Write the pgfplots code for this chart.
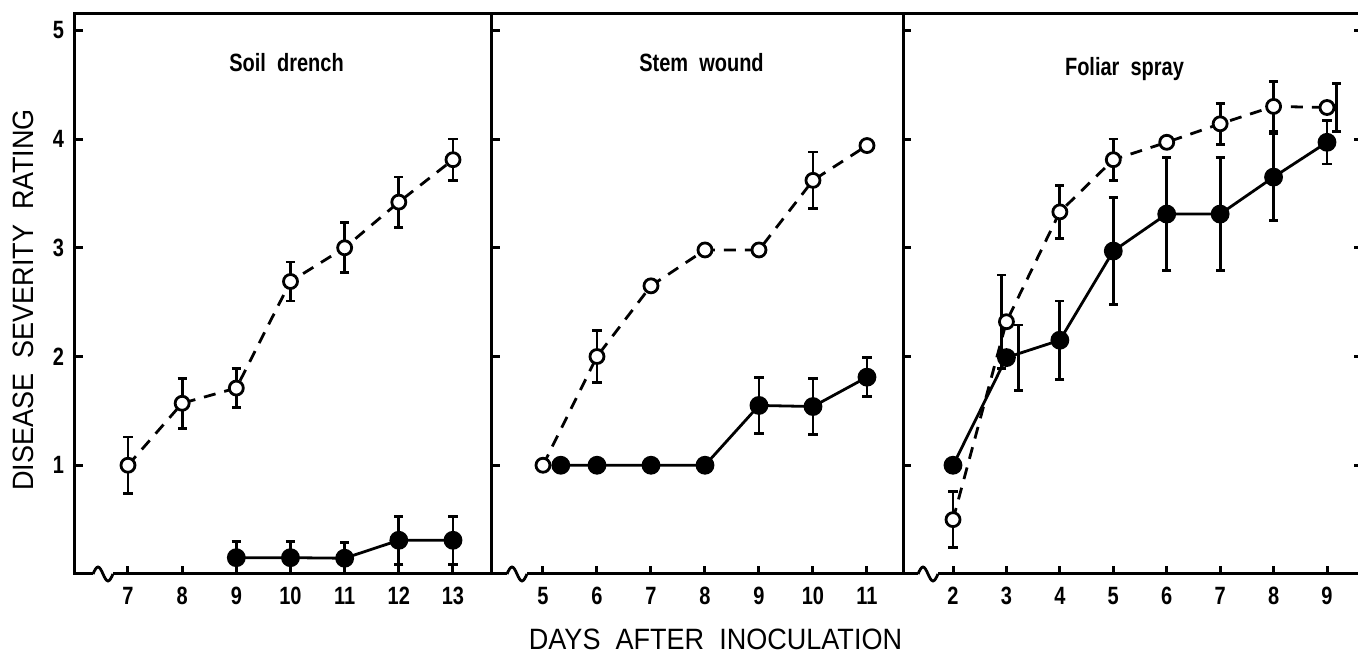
\documentclass[border=0pt]{standalone}
\usepackage{fontspec}
\setmainfont{Liberation Sans}[FakeStretch=0.92]
\newfontfamily\tickfont{Liberation Sans}[FakeStretch=0.8]
\usepackage{pgfplots}
\pgfplotsset{compat=1.18}

\pgfplotsset{
  panel/.style={
    scale only axis, height=280pt,
    ymin=0, ymax=5.15, ytick={1,2,3,4,5},
    tick align=inside, major tick length=4pt,
    xtick pos=left,
    axis line style={line width=1.5pt},
    every tick/.style={black, line width=1.5pt},
    tick label style={font=\tickfont\bfseries\fontsize{12.5}{14}\selectfont},
    /pgf/number format/assume math mode=true,
    xticklabel style={yshift=-3pt},
    yticklabel style={xshift=-2pt},
    clip=false,
  },
  errs/.style={error bars/.cd, y dir=both, y explicit,
    error bar style={draw=black, solid, line width=1.4pt},
    error mark options={draw=black, solid, rotate=90, line width=1.4pt, mark size=2.3pt}},
  open/.style={black, line width=1.4pt, dash pattern=on 6pt off 4.5pt,
    mark=*, mark size=3.5pt, mark options={solid, fill=white}, errs},
  filled/.style={black, solid, line width=1.4pt,
    mark=*, mark size=4pt, mark options={fill=black}, errs},
  baronly/.style={draw=none, mark=none, errs},
}

\begin{document}
\begin{tikzpicture}
% Soil drench
\begin{axis}[panel, name=p1, width=208.5pt,
  xmin=6.022, xmax=13.72, xtick={7,...,13}, ytick pos=left]
\addplot[filled] coordinates {
  (9,0.15) +- (0,0.15) (10,0.15) +- (0,0.15) (11,0.145) +- (0,0.145)
  (12,0.31) +- (0,0.22) (13,0.31) +- (0,0.22)};
\addplot[open] coordinates {
  (7,1.00) +- (0,0.26) (8,1.57) +- (0,0.23) (9,1.71) +- (0,0.18)
  (10,2.69) +- (0,0.18) (11,3.00) +- (0,0.23) (12,3.42) +- (0,0.23)
  (13,3.81) +- (0,0.19)};
\end{axis}
% Stem wound
\begin{axis}[panel, name=p2, at={(p1.south east)}, anchor=south west,
  width=205.5pt, xmin=4.056, xmax=11.667, xtick={5,...,11},
  yticklabels={}, ytick pos=left]
\addplot[filled] coordinates {
  (5.33,1.0) +- (0,0) (6,1.0) +- (0,0) (7,1.0) +- (0,0) (8,1.0) +- (0,0)
  (9,1.55) +- (0,0.26) (10,1.54) +- (0,0.26) (11,1.81) +- (0,0.18)};
\addplot[open] coordinates {
  (5,1.00) +- (0,0) (6,2.00) +- (0,0.24) (7,2.65) +- (0,0) (8,2.98) +- (0,0)
  (9,2.98) +- (0,0) (10,3.62) +- (0,0.26) (11,3.94) +- (0,0)};
\end{axis}
% Foliar spray
\begin{axis}[panel, name=p3, at={(p2.south east)}, anchor=south west,
  width=229.5pt, xmin=1.064, xmax=9.655, xtick={2,...,9},
  yticklabels={}, ytick pos=both]
\addplot[baronly] coordinates {(3.22,1.99) +- (0,0.30)};
\addplot[filled] coordinates {
  (2,1.0) +- (0,0) (3,1.99) +- (0,0) (4,2.15) +- (0,0.36) (5,2.97) +- (0,0.49)
  (6,3.31) +- (0,0.52) (7,3.31) +- (0,0.52) (8,3.65) +- (0,0.40)
  (9,3.97) +- (0,0.20)};
\addplot[baronly] coordinates {(2.91,2.32) +- (0,0.43) (9.18,4.29) +- (0,0.22)};
\addplot[open] coordinates {
  (2,0.50) +- (0,0.26) (3,2.32) +- (0,0) (4,3.33) +- (0,0.245)
  (5,3.81) +- (0,0.19) (6,3.97) +- (0,0) (7,4.14) +- (0,0.19)
  (8,4.30) +- (0,0.23) (9,4.29) +- (0,0)};
\end{axis}

% axis breaks
\foreach \p/\s in {p1/9pt, p2/7.5pt, p3/7.5pt} {
  \fill[white] ([xshift=\s, yshift=-1.5pt]\p.south west) rectangle ++(10pt,3pt);
  \draw[line width=1.4pt] ([xshift=\s]\p.south west) sin ++(2.5pt,3.5pt)
    cos ++(2.5pt,-3.5pt) sin ++(2.5pt,-3.5pt) cos ++(2.5pt,3.5pt);
}

% titles and labels
\node[anchor=base, font=\tickfont\bfseries\fontsize{12.5}{14}\selectfont] at ([xshift=1.5pt, yshift=-29pt]p1.north) {Soil\ \ drench};
\node[anchor=base, font=\tickfont\bfseries\fontsize{12.5}{14}\selectfont] at ([xshift=2pt, yshift=-29pt]p2.north) {Stem\ \ wound};
\node[anchor=base, font=\tickfont\bfseries\fontsize{12.5}{14}\selectfont] at ([xshift=-4pt, yshift=-31pt]p3.north) {Foliar\ \ spray};
\node[rotate=90, anchor=south, font=\fontsize{14.7}{17}\selectfont]
  at ([xshift=-17pt, yshift=-3pt]p1.west) {DISEASE\ \ SEVERITY\ \ RATING};
\node[anchor=north, font=\fontsize{14.7}{17}\selectfont]
  at ([xshift=9pt, yshift=-24pt]p2.south) {DAYS\ \ AFTER\ \ INOCULATION};

\pgfresetboundingbox
\useasboundingbox ([xshift=-37.5pt, yshift=-41pt]p1.south west)
  rectangle ([xshift=641.5pt, yshift=287pt]p1.south west);
\end{tikzpicture}
\end{document}
